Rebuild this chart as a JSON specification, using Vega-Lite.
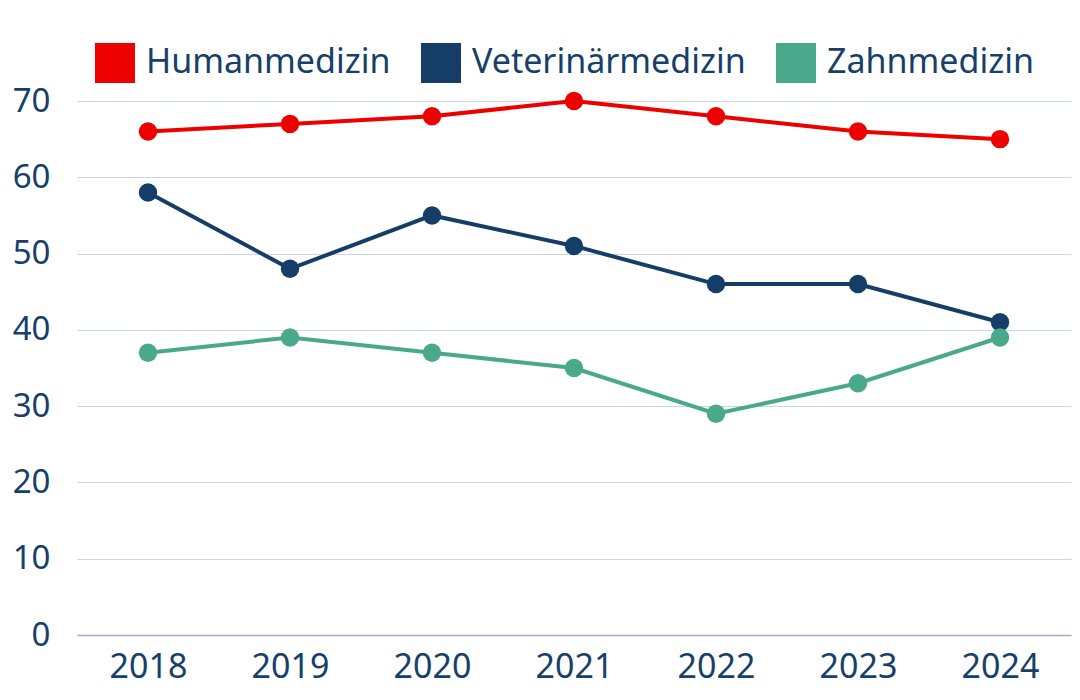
{
  "$schema": "https://vega.github.io/schema/vega-lite/v6.json",
  "width": 994,
  "height": 534,
  "autosize": "none",
  "padding": {"left": 77, "top": 101, "right": 9, "bottom": 65},
  "background": "white",
  "config": {
    "view": {"stroke": null},
    "font": "Noto Sans",
    "axis": {"labelFont": "Noto Sans", "labelColor": "#163f69", "labelFontSize": 33, "title": null}
  },
  "data": {
    "values": [
      {"Jahr": "2018", "Fach": "Humanmedizin", "Wert": 66},
      {"Jahr": "2019", "Fach": "Humanmedizin", "Wert": 67},
      {"Jahr": "2020", "Fach": "Humanmedizin", "Wert": 68},
      {"Jahr": "2021", "Fach": "Humanmedizin", "Wert": 70},
      {"Jahr": "2022", "Fach": "Humanmedizin", "Wert": 68},
      {"Jahr": "2023", "Fach": "Humanmedizin", "Wert": 66},
      {"Jahr": "2024", "Fach": "Humanmedizin", "Wert": 65},
      {"Jahr": "2018", "Fach": "Veterinärmedizin", "Wert": 58},
      {"Jahr": "2019", "Fach": "Veterinärmedizin", "Wert": 48},
      {"Jahr": "2020", "Fach": "Veterinärmedizin", "Wert": 55},
      {"Jahr": "2021", "Fach": "Veterinärmedizin", "Wert": 51},
      {"Jahr": "2022", "Fach": "Veterinärmedizin", "Wert": 46},
      {"Jahr": "2023", "Fach": "Veterinärmedizin", "Wert": 46},
      {"Jahr": "2024", "Fach": "Veterinärmedizin", "Wert": 41},
      {"Jahr": "2018", "Fach": "Zahnmedizin", "Wert": 37},
      {"Jahr": "2019", "Fach": "Zahnmedizin", "Wert": 39},
      {"Jahr": "2020", "Fach": "Zahnmedizin", "Wert": 37},
      {"Jahr": "2021", "Fach": "Zahnmedizin", "Wert": 35},
      {"Jahr": "2022", "Fach": "Zahnmedizin", "Wert": 29},
      {"Jahr": "2023", "Fach": "Zahnmedizin", "Wert": 33},
      {"Jahr": "2024", "Fach": "Zahnmedizin", "Wert": 39}
    ]
  },
  "encoding": {
    "x": {
      "field": "Jahr", "type": "ordinal",
      "scale": {"type": "point", "padding": 0.5},
      "axis": {"labelAngle": 0, "ticks": false, "domain": true, "domainColor": "#9fb0c2", "domainWidth": 1.5, "labelPadding": 15, "labelFontSize": 34, "grid": false}
    },
    "y": {
      "field": "Wert", "type": "quantitative",
      "scale": {"domain": [0, 70], "nice": false},
      "axis": {"values": [0, 10, 20, 30, 40, 50, 60, 70], "ticks": false, "domain": false, "grid": true, "gridColor": "#cdd6de", "gridWidth": 1, "labelPadding": 27}
    },
    "color": {
      "field": "Fach", "type": "nominal",
      "scale": {"domain": ["Humanmedizin", "Veterinärmedizin", "Zahnmedizin"], "range": ["#ec0000", "#143e67", "#4aa98a"]},
      "legend": {
        "title": null, "orient": "none", "direction": "horizontal",
        "legendX": 18, "legendY": -58,
        "symbolType": "square", "symbolSize": 1600, "symbolStrokeWidth": 0, "symbolOpacity": 1,
        "labelFont": "Noto Sans", "labelFontSize": 34, "labelColor": "#163f69",
        "labelOffset": 11, "columnPadding": 30, "labelLimit": 400
      }
    },
    "order": {"field": "Fach"}
  },
  "layer": [
    {"mark": {"type": "line", "strokeWidth": 4}},
    {"mark": {"type": "point", "filled": true, "opacity": 1, "size": 340}}
  ]
}
